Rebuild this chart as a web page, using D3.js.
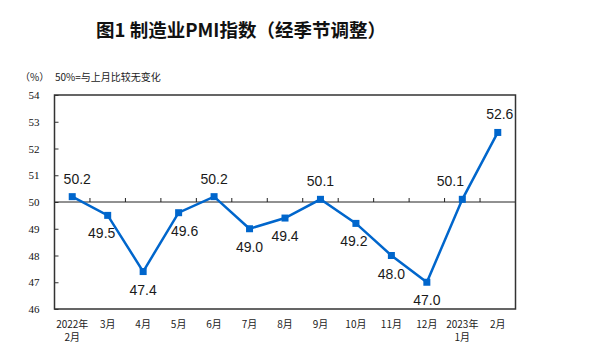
<!DOCTYPE html>
<html>
<head>
<meta charset="utf-8">
<script src="https://cdn.jsdelivr.net/npm/d3@7"></script>
<style>
  body { margin: 0; background: #fff; }
  svg { display: block; }
</style>
</head>
<body>
<svg width="589" height="364"></svg>
<script>
// data
const months = ['2022年|2月', '3月', '4月', '5月', '6月', '7月', '8月', '9月', '10月', '11月', '12月', '2023年|1月', '2月'];
const pmi = [50.2, 49.5, 47.4, 49.6, 50.2, 49.0, 49.4, 50.1, 49.2, 48.0, 47.0, 50.1, 52.6];
const yTicks = [46, 47, 48, 49, 50, 51, 52, 53, 54];

// small sideways nudges for value labels so they clear the line
const labelShift = [5, -6, 0, 6, 0, 0, 0, 0, -2, 0, 0, -12, 2];

const svg = d3.select('svg');
const margin = { top: 95, right: 73.5, bottom: 55, left: 54.5 };
const width = +svg.attr('width');
const height = +svg.attr('height');
const innerWidth = width - margin.left - margin.right;
const innerHeight = height - margin.top - margin.bottom;
const cjk = '"Noto Sans CJK SC", sans-serif';
const blue = '#0066cc';

const data = months.map((m, i) => ({ month: m, value: pmi[i], shift: labelShift[i] }));

const xscale = d3.scaleBand()
    .domain(months)
    .range([0, innerWidth]);

const yscale = d3.scaleLinear()
    .domain([46, 54])
    .range([innerHeight, 0]);

// titles
svg.append('text')
    .attr('x', 241).attr('y', 37)
    .attr('text-anchor', 'middle')
    .style('font-family', cjk)
    .style('font-weight', 'bold')
    .style('font-size', '18.5px')
    .style('fill', '#111')
    .text('图1 制造业PMI指数（经季节调整）');

svg.append('text')
    .attr('x', 20).attr('y', 81)
    .style('font-family', cjk)
    .style('font-size', '10px')
    .style('fill', '#222')
    .text('（%）');

svg.append('text')
    .attr('x', 55).attr('y', 81)
    .style('font-family', cjk)
    .style('font-size', '10px')
    .style('fill', '#222')
    .text('50%=与上月比较无变化');

const g = svg.append('g')
    .attr('transform', `translate(${margin.left},${margin.top})`);

// y axis
const yAxis = g.append('g')
    .call(d3.axisLeft(yscale).tickValues(yTicks).tickSize(-4).tickPadding(15).tickFormat(d3.format('d')));
yAxis.select('.domain').remove();
yAxis.selectAll('line').attr('stroke', '#333');
yAxis.selectAll('text')
    .style('font-family', '"Liberation Serif", serif')
    .style('font-size', '11px')
    .style('fill', '#111');

// 50 line with ticks at band edges
const y50 = yscale(50);
g.append('line')
    .attr('x1', 0).attr('x2', innerWidth)
    .attr('y1', y50).attr('y2', y50)
    .attr('stroke', '#222').attr('stroke-width', 1);

g.selectAll('.xtick').data(months.slice(1))
    .enter().append('line')
        .attr('class', 'xtick')
        .attr('x1', d => xscale(d)).attr('x2', d => xscale(d))
        .attr('y1', y50).attr('y2', y50 - 4)
        .attr('stroke', '#222');

// frame
g.append('rect')
    .attr('width', innerWidth).attr('height', innerHeight)
    .attr('fill', 'none').attr('stroke', '#333').attr('stroke-width', 1.5);

// x labels, one text per line
const xlines = months.flatMap(m => m.split('|').map((p, i) => ({ month: m, text: p, row: i })));
g.selectAll('.xlab').data(xlines)
    .enter().append('text')
        .attr('class', 'xlab')
        .attr('x', d => xscale(d.month) + xscale.bandwidth() / 2)
        .attr('y', d => innerHeight + 19 + d.row * 13)
        .attr('text-anchor', 'middle')
        .style('font-family', cjk)
        .style('font-size', '10px')
        .style('fill', '#222')
        .text(d => d.text);

// line
const line = d3.line()
    .x(d => xscale(d.month) + xscale.bandwidth() / 2)
    .y(d => yscale(d.value));

g.append('path')
    .datum(data)
    .attr('d', line)
    .attr('fill', 'none')
    .attr('stroke', blue)
    .attr('stroke-width', 2.5);

g.selectAll('.pt').data(data)
    .enter().append('rect')
        .attr('class', 'pt')
        .attr('x', d => xscale(d.month) + xscale.bandwidth() / 2 - 3.5)
        .attr('y', d => yscale(d.value) - 3.5)
        .attr('width', 7).attr('height', 7)
        .attr('fill', blue);

// value labels
g.selectAll('.vl').data(data)
    .enter().append('text')
        .attr('class', 'vl')
        .attr('x', d => xscale(d.month) + xscale.bandwidth() / 2 + d.shift)
        .attr('y', d => yscale(d.value) + (d.value >= 50 ? -13 : 23))
        .attr('text-anchor', 'middle')
        .style('font-family', '"Liberation Sans", Arial, sans-serif')
        .style('font-size', '14px')
        .style('fill', '#1a1a1a')
        .text(d => d.value.toFixed(1));
</script>
</body>
</html>
